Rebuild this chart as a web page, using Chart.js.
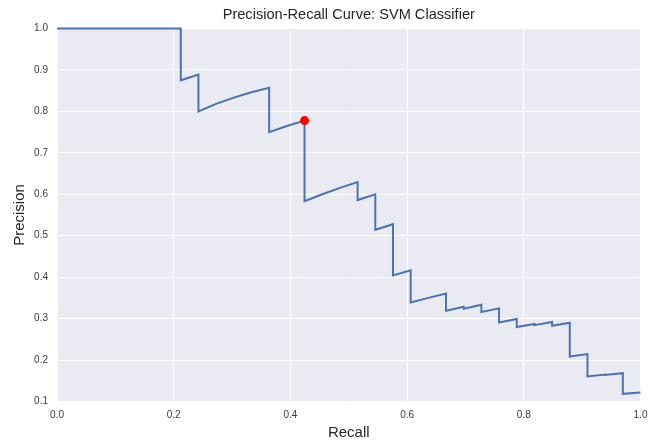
<!DOCTYPE html>
<html>
<head>
<meta charset="utf-8">
<script src="https://cdn.jsdelivr.net/npm/chart.js@4/dist/chart.umd.min.js"></script>
<style>
  html, body { margin: 0; padding: 0; background: #ffffff; }
  canvas { display: block; }
</style>
</head>
<body>
<canvas id="c" width="659" height="445"></canvas>
<script>
// Precision-recall curve values
const recall = [
  0.0, 0.2121, 0.2121, 0.2424, 0.2424, 0.2727, 0.3030, 0.3333, 0.3636, 0.3636,
  0.3939, 0.4242, 0.4242, 0.4545, 0.4848, 0.5152, 0.5152, 0.5455, 0.5455, 0.5758,
  0.5758, 0.6061, 0.6061, 0.6364, 0.6667, 0.6667, 0.6970, 0.6970, 0.7273, 0.7273,
  0.7576, 0.7576, 0.7879, 0.7879, 0.8182, 0.8182, 0.8485, 0.8485, 0.8788, 0.8788,
  0.9091, 0.9091, 0.9394, 0.9394, 0.9697, 0.9697, 1.0
];
const precision = [
  1.0, 1.0, 0.875, 0.8889, 0.8, 0.8182, 0.8333, 0.8462, 0.8571, 0.75,
  0.7647, 0.7778, 0.5833, 0.6, 0.6154, 0.6296, 0.5862, 0.6, 0.5143, 0.5278,
  0.4043, 0.4167, 0.339, 0.35, 0.3607, 0.3188, 0.3286, 0.3239, 0.3333, 0.3158,
  0.3247, 0.2907, 0.2989, 0.2796, 0.2872, 0.2842, 0.2917, 0.2828, 0.29, 0.2086,
  0.2143, 0.1604, 0.1649, 0.164, 0.1684, 0.1185, 0.1218
];
// Highlighted operating point (red marker)
const markerRecall = [0.4242];
const markerPrecision = [0.7778];

const xTicks = [0.0, 0.2, 0.4, 0.6, 0.8, 1.0];
const yTicks = [0.1, 0.2, 0.3, 0.4, 0.5, 0.6, 0.7, 0.8, 0.9, 1.0];

const titleText = 'Precision-Recall Curve: SVM Classifier';
const xLabel = 'Recall';
const yLabel = 'Precision';

const FONT = '"Liberation Sans", Arial, sans-serif';

const curvePoints = recall.map((r, i) => ({ x: r, y: precision[i] }));
const markerPoints = markerRecall.map((r, i) => ({ x: r, y: markerPrecision[i] }));

const bgPlugin = {
  id: 'panelBg',
  afterLayout(chart) {
    // centre the title over the plotting area, as matplotlib does
    const a = chart.chartArea;
    if (chart.titleBlock) {
      chart.titleBlock.left = a.left;
      chart.titleBlock.right = a.right;
      chart.titleBlock.width = a.right - a.left;
    }
  },
  beforeDraw(chart) {
    const { ctx, chartArea: a } = chart;
    ctx.save();
    ctx.fillStyle = '#EAEAF2';
    ctx.fillRect(a.left, a.top, a.right - a.left, a.bottom - a.top);
    ctx.restore();
  }
};

new Chart(document.getElementById('c'), {
  type: 'scatter',
  data: {
    datasets: [
      {
        label: 'PR curve',
        data: curvePoints,
        showLine: true,
        borderColor: '#4C72B0',
        backgroundColor: '#4C72B0',
        borderWidth: 2,
        pointRadius: 0,
        tension: 0,
        clip: false,
        order: 2
      },
      {
        label: 'Threshold',
        data: markerPoints,
        showLine: false,
        pointRadius: 4.5,
        pointBackgroundColor: '#FF0000',
        pointBorderColor: '#FF0000',
        pointBorderWidth: 0,
        clip: false,
        order: 1
      }
    ]
  },
  options: {
    responsive: false,
    animation: false,
    devicePixelRatio: 1,
    layout: { padding: { left: 0, right: 18.5, top: 0, bottom: 0 } },
    plugins: {
      legend: { display: false },
      tooltip: { enabled: false },
      title: {
        display: true,
        text: titleText,
        color: '#262626',
        font: { family: FONT, size: 14.6, weight: 'normal' },
        padding: { top: 6.6, bottom: 4.4 }
      }
    },
    scales: {
      x: {
        type: 'linear',
        min: 0,
        max: 1,
        afterFit(s) { s.height = 43.5; },
        afterBuildTicks(s) { s.ticks = xTicks.map(v => ({ value: v })); },
        border: { display: false },
        grid: { color: '#FFFFFF', lineWidth: 1, drawTicks: false },
        ticks: {
          padding: 8,
          color: '#3a3a3a',
          font: { family: FONT, size: 10 },
          maxRotation: 0,
          callback: v => Number(v).toFixed(1)
        },
        title: {
          display: true,
          text: xLabel,
          color: '#262626',
          font: { family: FONT, size: 15 },
          padding: { top: 0, bottom: 3 }
        }
      },
      y: {
        type: 'linear',
        min: 0.1,
        max: 1.0,
        afterFit(s) { s.width = 57; },
        afterBuildTicks(s) { s.ticks = yTicks.map(v => ({ value: v })); },
        border: { display: false },
        grid: { color: '#FFFFFF', lineWidth: 1, drawTicks: false },
        ticks: {
          padding: 9,
          color: '#3a3a3a',
          font: { family: FONT, size: 10 },
          callback: v => Number(v).toFixed(1)
        },
        title: {
          display: true,
          text: yLabel,
          color: '#262626',
          font: { family: FONT, size: 15 },
          padding: { top: 11, bottom: 0 }
        }
      }
    }
  },
  plugins: [bgPlugin]
});
</script>
</body>
</html>
